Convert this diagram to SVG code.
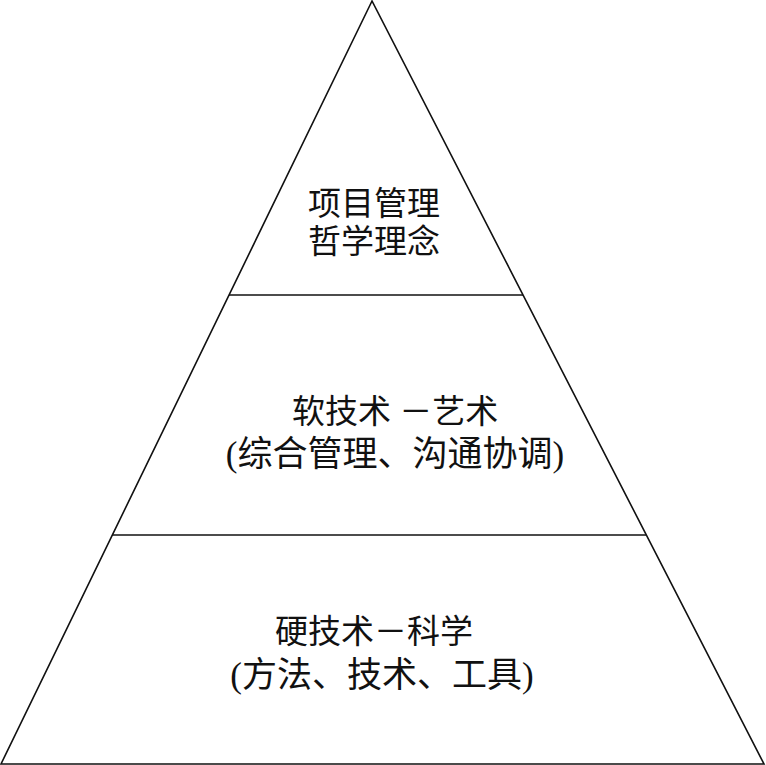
<svg xmlns="http://www.w3.org/2000/svg" width="766" height="765" viewBox="0 0 766 765">
<style>
.edge{stroke:#111;stroke-width:1.6;fill:none}
.t{font-family:"Liberation Serif","Noto Sans CJK SC",serif;font-size:33px;fill:#111;text-anchor:middle}
.p{font-size:35px}
</style>
<rect width="766" height="765" fill="#fff"/>
<g id="connectors">
<polygon class="edge" points="372,1 1,764 764,764"/>
<line class="edge" x1="229" y1="295" x2="523" y2="295"/>
<line class="edge" x1="112" y1="535" x2="646" y2="535"/>
</g>
<g id="top-node">
<text class="t" x="374" y="215">项目管理</text>
<text class="t" x="374" y="253">哲学理念</text>
</g>
<g id="middle-node">
<text class="t" x="395" y="423">软技术 －艺术</text>
<text class="t p" x="395" y="466">(综合管理、沟通协调)</text>
</g>
<g id="bottom-node">
<text class="t" x="374" y="643">硬技术－科学</text>
<text class="t p" x="382" y="687">(方法、技术、工具)</text>
</g>
</svg>
